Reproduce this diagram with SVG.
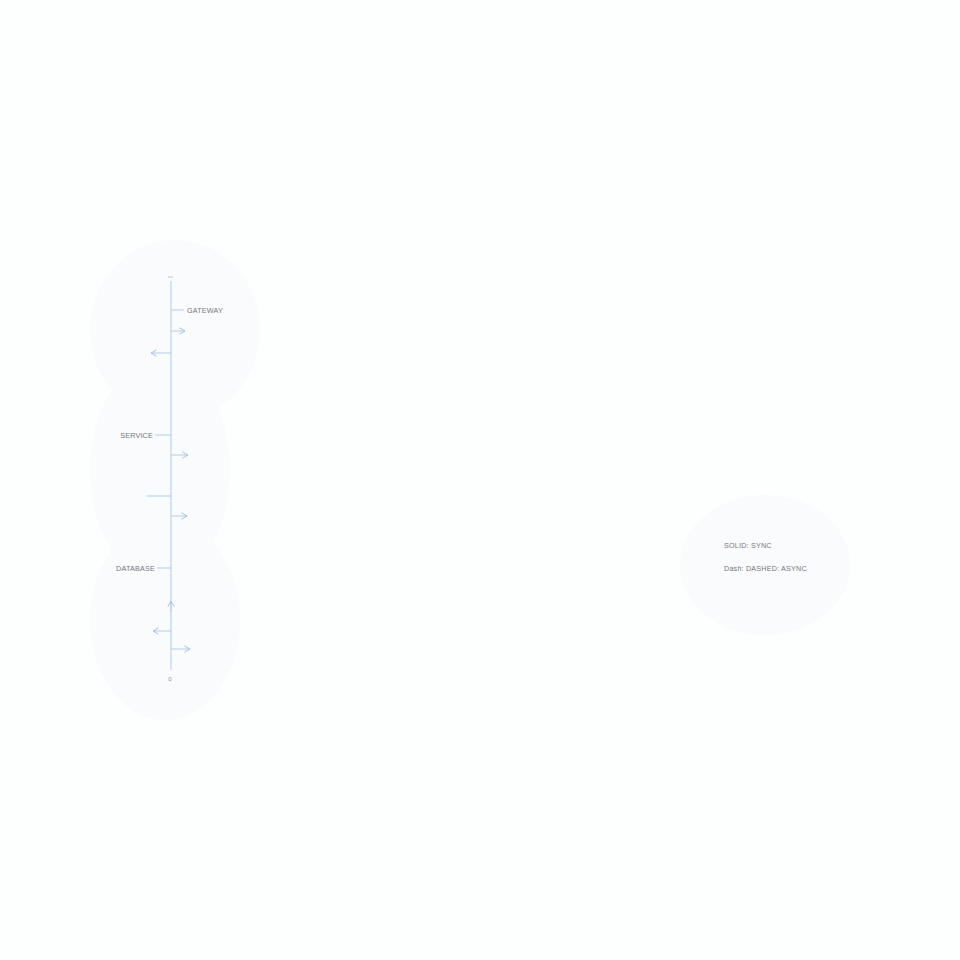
<svg xmlns="http://www.w3.org/2000/svg" width="960" height="960" viewBox="0 0 960 960">
<defs>
<style>
.ax{stroke:#b0cbe8;stroke-width:1;fill:none}
.lb{font-family:"Liberation Sans",Arial,sans-serif;font-size:7.2px;fill:#73777d;letter-spacing:0.2px}
.sm{font-family:"Liberation Sans",Arial,sans-serif;font-size:6px;fill:#8a8f96}
.glow{fill:#fafbfc}
</style>
<marker id="ah" viewBox="0 0 10 10" refX="8" refY="5" markerWidth="8" markerHeight="8" orient="auto" markerUnits="userSpaceOnUse">
<path d="M1,1 L8,5 L1,9" fill="none" stroke="#a3c1e4" stroke-width="1.2"/>
</marker>
</defs>
<rect width="960" height="960" fill="#fdfefe"/>
<ellipse class="glow" cx="175" cy="330" rx="85" ry="90"/>
<ellipse class="glow" cx="160" cy="470" rx="70" ry="110"/>
<ellipse class="glow" cx="165" cy="620" rx="75" ry="100"/>
<ellipse class="glow" cx="765" cy="565" rx="85" ry="70"/>
<g id="connectors">
<line class="ax" x1="171" y1="281" x2="171" y2="670"/>
<line class="ax" x1="168" y1="277" x2="173" y2="277"/>
<line class="ax" x1="171" y1="331" x2="185" y2="331" marker-end="url(#ah)"/>
<line class="ax" x1="171" y1="353" x2="151" y2="353" marker-end="url(#ah)"/>
<line class="ax" x1="171" y1="455" x2="188" y2="455" marker-end="url(#ah)"/>
<line class="ax" x1="147" y1="496" x2="171" y2="496"/>
<line class="ax" x1="171" y1="516" x2="187" y2="516" marker-end="url(#ah)"/>
<line class="ax" x1="171" y1="612" x2="171" y2="601" marker-end="url(#ah)"/>
<line class="ax" x1="171" y1="631" x2="153" y2="631" marker-end="url(#ah)"/>
<line class="ax" x1="171" y1="649" x2="190" y2="649" marker-end="url(#ah)"/>
</g>
<g id="gateway">
<line class="ax" x1="171" y1="310" x2="184" y2="310"/>
<text class="lb" x="187" y="313">GATEWAY</text>
</g>
<g id="service">
<line class="ax" x1="155" y1="435" x2="171" y2="435"/>
<text class="lb" x="153" y="438" text-anchor="end">SERVICE</text>
</g>
<g id="database">
<line class="ax" x1="157" y1="568" x2="171" y2="568"/>
<text class="lb" x="155" y="571" text-anchor="end">DATABASE</text>
</g>
<g id="origin">
<text class="sm" x="170" y="681" text-anchor="middle">0</text>
</g>
<g id="legend">
<text class="lb" x="724" y="548">SOLID: SYNC</text>
<text class="lb" x="724" y="571">Dash: DASHED: ASYNC</text>
</g>
</svg>
